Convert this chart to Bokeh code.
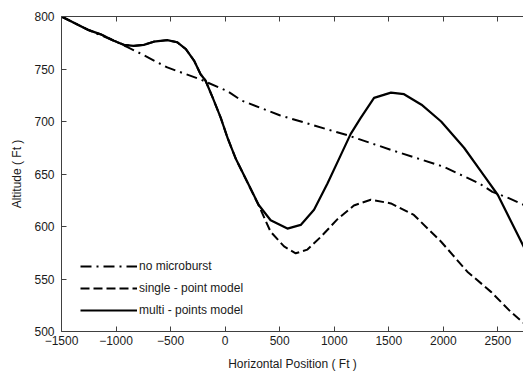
from bokeh.plotting import figure
from bokeh.models import FixedTicker, LinearAxis, Legend, LegendItem, Range1d
from bokeh.embed import file_html
from bokeh.resources import INLINE

# no microburst (dash-dot)
nm_x = [-1500, -1250, -1000, -900, -800, -530, -225, 20, 150, 500, 1000, 1120, 1520, 2000, 2330, 2450, 2600, 2750]
nm_y = [800, 787, 776, 771, 766, 751.5, 740, 729, 720, 706, 690.5, 687, 673, 657, 641, 633, 627, 620]

# single - point model (dashed)
sp_x = [-1500, -1250, -1140, -1020, -930, -840, -745, -655, -530, -440, -360, -285, -225, -180, -115, -40, 20, 50,
        100, 200, 308, 417, 540, 647, 754, 876, 1030, 1180, 1335, 1520, 1730, 1980, 2220, 2440, 2620, 2750]
sp_y = [800, 787, 783, 777, 773, 772, 773, 776, 777.5, 775.5, 769, 758, 745, 739, 723, 703.5, 685, 677,
        664, 643, 620, 595, 581, 574.5, 578, 590, 607, 620, 625.5, 622, 611, 585.5, 557, 537.5, 518.5, 507]

# multi - points model (solid)
mp_x = [-1500, -1250, -1140, -1020, -930, -840, -745, -655, -530, -440, -360, -285, -225, -180, -115, -40, 20, 50,
        100, 200, 308, 417, 571, 693, 815, 938, 1060, 1150, 1240, 1365, 1520, 1640, 1800, 1980, 2190, 2370, 2500,
        2620, 2750]
mp_y = [800, 787, 783, 777, 773, 772, 773, 776, 777.5, 775.5, 769, 758, 745, 739, 723, 703.5, 685, 677,
        664, 643, 620.5, 606, 598, 601.5, 616, 641, 668, 688, 703, 722.5, 727.5, 726, 716, 700, 675, 649, 630,
        605, 578]

x_ticks = [-1500, -1000, -500, 0, 500, 1000, 1500, 2000, 2500]
y_ticks = [500, 550, 600, 650, 700, 750, 800]

FONT = "Liberation Sans"
AX = "#404040"
TXT = "#1a1a1a"

p = figure(width=523, height=374, output_backend="svg", toolbar_location=None,
           x_range=Range1d(-1500, 2735), y_range=Range1d(500, 800),
           min_border_left=61, min_border_right=0, min_border_top=16, min_border_bottom=43)
p.outline_line_color = None
p.grid.visible = False
p.background_fill_color = "white"
p.border_fill_color = "white"

r1 = p.line(nm_x, nm_y, line_color="black", line_width=2, line_dash="11 5 2 5", line_join="round")
r2 = p.line(sp_x, sp_y, line_color="black", line_width=2, line_dash="9 4", line_join="round")
r3 = p.line(mp_x, mp_y, line_color="black", line_width=2.2, line_join="round")

for ax in (p.xaxis[0], p.yaxis[0]):
    ax.axis_line_color = AX
    ax.major_tick_line_color = AX
    ax.major_tick_in = 5
    ax.major_tick_out = 0
    ax.minor_tick_line_color = None
    ax.major_label_text_font = FONT
    ax.major_label_text_font_size = "12px"
    ax.major_label_text_color = TXT
    ax.axis_label_text_font = FONT
    ax.axis_label_text_font_size = "12px"
    ax.axis_label_text_font_style = "normal"
    ax.axis_label_text_color = TXT

p.xaxis[0].ticker = FixedTicker(ticks=x_ticks)
p.yaxis[0].ticker = FixedTicker(ticks=y_ticks)
p.xaxis[0].axis_label = "Horizontal Position ( Ft )"
p.yaxis[0].axis_label = "Altitude ( Ft )"
p.xaxis[0].major_label_standoff = 4
p.xaxis[0].axis_label_standoff = 9
p.yaxis[0].major_label_standoff = 7
p.yaxis[0].axis_label_standoff = 7

top = LinearAxis(ticker=FixedTicker(ticks=x_ticks), axis_line_color=AX, major_tick_line_color=AX,
                 major_tick_in=5, major_tick_out=0, minor_tick_line_color=None,
                 major_label_overrides={t: "" for t in x_ticks}, major_label_standoff=0)
p.add_layout(top, "above")

legend = Legend(items=[LegendItem(label="no microburst", renderers=[r1]),
                       LegendItem(label="single - point model", renderers=[r2]),
                       LegendItem(label="multi - points model", renderers=[r3])],
                location=(19, 10), background_fill_alpha=0, border_line_color=None,
                padding=0, margin=0, spacing=0, label_height=22, glyph_height=22,
                glyph_width=57, label_standoff=2,
                label_text_font=FONT, label_text_font_size="12px", label_text_color=TXT)
p.add_layout(legend, "center")

open("out.html", "w").write(file_html(p, INLINE))
